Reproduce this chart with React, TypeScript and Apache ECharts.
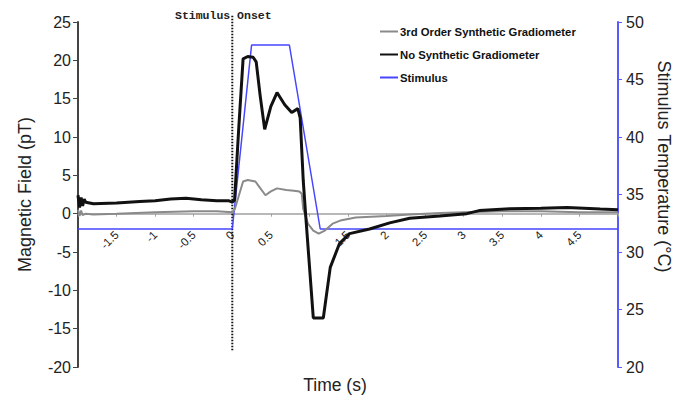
import React, { useEffect, useRef } from "react";
import * as echarts from "echarts";

// Time (s) and magnetic field (pT) – no synthetic gradiometer
const noSynthT = [-2.0, -1.98, -1.96, -1.94, -1.92, -1.9, -1.8, -1.5, -1.2, -1.0, -0.8, -0.6, -0.4, -0.2, -0.05, 0.0, 0.03, 0.08, 0.14, 0.2, 0.27, 0.31, 0.36, 0.42, 0.5, 0.58, 0.68, 0.77, 0.85, 0.88, 0.92, 0.95, 1.05, 1.18, 1.27, 1.39, 1.52, 1.78, 2.04, 2.3, 2.69, 3.04, 3.2, 3.6, 4.0, 4.34, 4.77, 5.0];
const noSynthV = [2.4, 0.8, 2.1, 1.0, 1.9, 1.5, 1.3, 1.4, 1.6, 1.7, 1.9, 2.0, 1.8, 1.7, 1.7, 1.5, 1.8, 10.5, 20.2, 20.5, 20.4, 19.8, 15.5, 11.0, 14.0, 15.8, 14.2, 13.2, 13.7, 12.5, 4.3, 0.0, -13.6, -13.6, -7.0, -3.9, -2.6, -2.0, -1.2, -0.6, -0.3, 0.0, 0.4, 0.65, 0.7, 0.8, 0.6, 0.5];

// 3rd order synthetic gradiometer
const thirdT = [-2.0, -1.98, -1.96, -1.94, -1.9, -1.8, -1.5, -1.0, -0.5, -0.2, 0.0, 0.03, 0.14, 0.2, 0.3, 0.35, 0.43, 0.5, 0.58, 0.7, 0.8, 0.87, 0.9, 0.92, 0.98, 1.05, 1.12, 1.2, 1.3, 1.4, 1.6, 2.0, 2.3, 2.7, 3.0, 3.5, 4.0, 4.5, 5.0];
const thirdV = [0.5, -0.3, 0.4, -0.2, 0.0, -0.1, 0.0, 0.2, 0.3, 0.3, 0.2, 0.5, 4.2, 4.4, 4.2, 3.5, 2.4, 2.9, 3.3, 3.1, 3.0, 2.9, 2.6, 0.6, -1.3, -2.2, -2.6, -2.2, -1.3, -0.9, -0.5, -0.3, -0.1, 0.1, 0.2, 0.3, 0.3, 0.2, 0.2];

// Stimulus temperature (°C)
const stimT = [-2.0, 0.0, 0.25, 0.74, 1.14, 5.0];
const stimV = [32, 32, 48, 48, 32, 32];

// Stimulus onset marker (time, field)
const onsetT = [0, 0];
const onsetV = [25.8, -17.9];

const seriesNames = ["3rd Order Synthetic Gradiometer", "No Synthetic Gradiometer", "Stimulus"];
const hiddenXLabels = [-2, 1, 5];

const zip = (a: number[], b: number[]) => a.map((x, i) => [x, b[i]]);

export default function App() {
  const ref = useRef<HTMLDivElement>(null);
  useEffect(() => {
    if (!ref.current) return;
    const chart = echarts.init(ref.current, null, { renderer: "svg" });
    const font = "Liberation Sans, Arial, sans-serif";
    const xBase = { type: "value", min: -2, max: 5, interval: 0.5, splitLine: { show: false } };
    chart.setOption({
      animation: false,
      textStyle: { fontFamily: font },
      title: {
        text: "Stimulus Onset",
        left: 170,
        top: 4,
        textStyle: { fontFamily: "Liberation Mono, Courier New, monospace", fontSize: 11.5, fontWeight: "bold", color: "#222" },
      },
      legend: {
        data: seriesNames.map((n) => ({ name: n, icon: "rect" })),
        orient: "vertical",
        left: 375,
        top: 21,
        itemWidth: 18,
        itemHeight: 2,
        itemGap: 12,
        textStyle: { fontFamily: font, fontSize: 11.3, fontWeight: "bold", color: "#111", padding: [0, 0, 0, -3] },
      },
      grid: { left: 78, right: 65, top: 22, bottom: 32, containLabel: false, outerBoundsMode: "none" },
      xAxis: [
        {
          ...xBase,
          axisLine: { onZero: true, lineStyle: { color: "#a0a0a0", width: 1.5 } },
          axisTick: { show: true, length: 3, lineStyle: { color: "#a0a0a0" } },
          axisLabel: { show: false },
        },
        {
          ...xBase,
          position: "bottom",
          offset: -139,
          name: "Time (s)",
          nameLocation: "middle",
          nameGap: 148,
          nameTextStyle: { fontSize: 17.5, color: "#222", padding: [0, 26, 0, 0] },
          axisLine: { show: false, onZero: false },
          axisTick: { show: false },
          axisLabel: {
            rotate: 45,
            margin: 5,
            fontSize: 11.5,
            color: "#222",
            formatter: (v: number) => (hiddenXLabels.includes(v) ? "" : String(v)),
          },
        },
      ],
      yAxis: [
        {
          type: "value",
          min: -20,
          max: 25,
          interval: 5,
          name: "Magnetic Field (pT)",
          nameLocation: "middle",
          nameGap: 44,
          nameTextStyle: { fontSize: 18, color: "#222" },
          axisLine: { show: true, onZero: false, lineStyle: { color: "#444", width: 2 } },
          axisTick: { show: true, length: 5, lineStyle: { color: "#444" } },
          axisLabel: { fontSize: 16, color: "#222", margin: 7 },
          splitLine: { show: false },
        },
        {
          type: "value",
          min: 20,
          max: 50,
          interval: 5,
          position: "right",
          name: "Stimulus Temperature (°C)",
          nameLocation: "middle",
          nameGap: 31,
          nameRotate: -90,
          nameTextStyle: { fontSize: 18, color: "#222", padding: [0, 56, 0, 0] },
          axisLine: { show: true, onZero: false, lineStyle: { color: "#5a5aff", width: 2 } },
          axisTick: { show: true, length: 4, lineStyle: { color: "#5a5aff" } },
          axisLabel: { fontSize: 16, color: "#222", margin: 8 },
          splitLine: { show: false },
        },
      ],
      series: [
        {
          name: "Stimulus",
          type: "line",
          yAxisIndex: 1,
          data: zip(stimT, stimV),
          symbol: "none",
          lineStyle: { color: "#4646ff", width: 1.5 },
          itemStyle: { color: "#4646ff" },
          z: 3,
        },
        {
          name: "3rd Order Synthetic Gradiometer",
          type: "line",
          data: zip(thirdT, thirdV),
          symbol: "none",
          lineStyle: { color: "#8a8a8a", width: 2 },
          itemStyle: { color: "#8a8a8a" },
          z: 4,
        },
        {
          name: "No Synthetic Gradiometer",
          type: "line",
          data: zip(noSynthT, noSynthV),
          symbol: "none",
          lineStyle: { color: "#111", width: 3 },
          itemStyle: { color: "#111" },
          z: 5,
        },
        {
          name: "onset",
          type: "line",
          data: zip(onsetT, onsetV),
          symbol: "none",
          clip: false,
          lineStyle: { color: "#111", width: 2, type: [1.5, 1.5] },
          z: 2,
        },
      ],
    });
    return () => chart.dispose();
  }, []);
  return <div ref={ref} style={{ position: "fixed", left: 0, top: 0, width: 683, height: 399, background: "#fff" }} />;
}
